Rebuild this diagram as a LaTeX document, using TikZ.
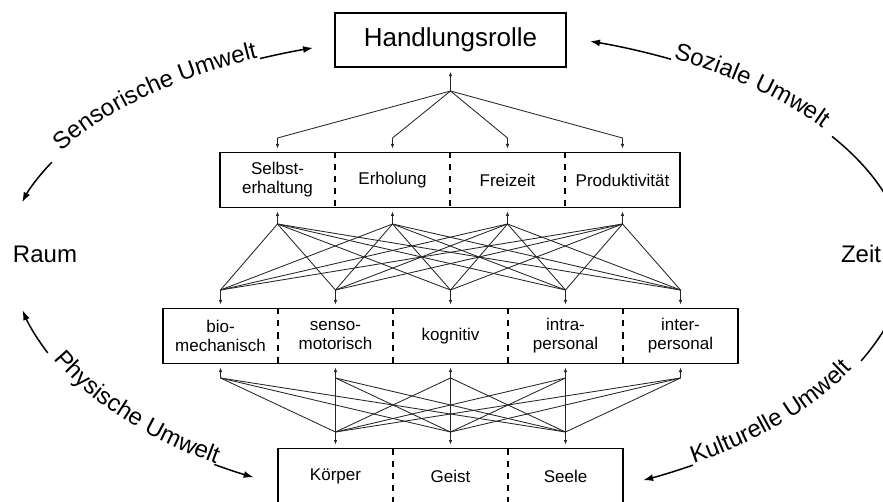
\documentclass[tikz,border=0pt]{standalone}
\usepackage{fontspec}
\setmainfont{Liberation Sans}
\usetikzlibrary{arrows.meta,positioning,calc,decorations.text}

\newcommand{\umweltfont}{\fontsize{24}{28}\selectfont}
\newcommand{\kastenfont}{\fontsize{17}{19}\selectfont}

\newcommand{\umweltbogen}[8]{
	\pgfmathsetmacro{\UBdir}{sign(#6-#5)}
	\pgfmathsetmacro{\UBla}{#5-1*\UBdir}
	\pgfmathsetmacro{\UBlb}{#6+1*\UBdir}
	\pgfmathsetmacro{\UBta}{#5-6*\UBdir}
	\pgfmathsetmacro{\UBtb}{#6+6*\UBdir}
	\draw[umwelt] ($(#1)+(\UBla:#2 and #3)$) arc[start angle=\UBla, end angle=#4, x radius=#2, y radius=#3];
	\path[decorate, decoration={text along path, text align=center, raise=1pt, text={|\umweltfont|#8}}]
		($(#1)+(\UBta:#2 and #3)$) arc[start angle=\UBta, end angle=\UBtb, x radius=#2, y radius=#3];
	\draw[umwelt] ($(#1)+(\UBlb:#2 and #3)$) arc[start angle=\UBlb, end angle=#7, x radius=#2, y radius=#3];
}

\newcommand{\faecher}[2]{
	\foreach \ziel in {#2} {\draw[link] (#1) -- (\ziel);}
}

\begin{document}
\begin{tikzpicture}[x=1pt, y=1pt,
	kasten/.style={minimum width=115pt, minimum height=55pt, inner sep=0pt, outer sep=0pt, align=center, font=\kastenfont},
	rahmen/.style={line width=1.5pt},
	trenner/.style={line width=1.1pt, dash pattern=on 6pt off 6pt},
	link/.style={line width=0.85pt, black!85},
	pfeil/.style={line width=0.85pt, black!85, -{Latex[length=4.5pt,width=3.5pt]}, shorten >=4pt},
	umwelt/.style={line width=1.5pt, -{Latex[length=10pt,width=7pt]}}]
\useasboundingbox (0,0) rectangle (883,501);
\clip (0,0) rectangle (883,501);

\node[draw, rahmen, minimum width=231pt, minimum height=54pt, font=\fontsize{26}{30}\selectfont] (rolle) at (450.5,461) {Handlungsrolle};

\node[kasten] (selbst) at (277.5,321) {Selbst-\\erhaltung};
\node[kasten, right=0pt of selbst] (erholung) {Erholung};
\node[kasten, right=0pt of erholung] (freizeit) {Freizeit};
\node[kasten, right=0pt of freizeit] (produkt) {Produktivität};
\draw[rahmen] (selbst.north west) rectangle (produkt.south east);
\draw[trenner] (selbst.north east) -- (selbst.south east);
\draw[trenner] (erholung.north east) -- (erholung.south east);
\draw[trenner] (freizeit.north east) -- (freizeit.south east);

\node[kasten] (bio) at (220.5,165) {bio-\\mechanisch};
\node[kasten, right=0pt of bio] (senso) {senso-\\motorisch};
\node[kasten, right=0pt of senso] (kogn) {kognitiv};
\node[kasten, right=0pt of kogn] (intra) {intra-\\personal};
\node[kasten, right=0pt of intra] (inter) {inter-\\personal};
\draw[rahmen] (bio.north west) rectangle (inter.south east);
\draw[trenner] (bio.north east) -- (bio.south east);
\draw[trenner] (senso.north east) -- (senso.south east);
\draw[trenner] (kogn.north east) -- (kogn.south east);
\draw[trenner] (intra.north east) -- (intra.south east);

\node[kasten] (koerper) at (335.5,25) {Körper};
\node[kasten, right=0pt of koerper] (geist) {Geist};
\node[kasten, right=0pt of geist] (seele) {Seele};
\draw[rahmen] (koerper.north west) rectangle (seele.south east);
\draw[trenner] (koerper.north east) -- (koerper.south east);
\draw[trenner] (geist.north east) -- (geist.south east);

\node[font=\umweltfont] (raum) at (45,247) {Raum};
\node[font=\umweltfont] (zeit) at (861,247) {Zeit};

\coordinate (spitze) at (450.5,410);
\coordinate[above=14.5pt of selbst.north] (o1);
\coordinate[above=14.5pt of erholung.north] (o2);
\coordinate[above=14.5pt of freizeit.north] (o3);
\coordinate[above=14.5pt of produkt.north] (o4);
\coordinate[below=16.5pt of selbst.south] (u1);
\coordinate[below=16.5pt of erholung.south] (u2);
\coordinate[below=16.5pt of freizeit.south] (u3);
\coordinate[below=16.5pt of produkt.south] (u4);
\coordinate[above=18.5pt of bio.north] (p1);
\coordinate[above=18.5pt of senso.north] (p2);
\coordinate[above=18.5pt of kogn.north] (p3);
\coordinate[above=18.5pt of intra.north] (p4);
\coordinate[above=18.5pt of inter.north] (p5);
\coordinate[below=14.5pt of bio.south] (q1);
\coordinate[below=14.5pt of senso.south] (q2);
\coordinate[below=14.5pt of kogn.south] (q3);
\coordinate[below=14.5pt of intra.south] (q4);
\coordinate[below=14.5pt of inter.south] (q5);
\coordinate[above=16.5pt of koerper.north] (r1);
\coordinate[above=16.5pt of geist.north] (r2);
\coordinate[above=16.5pt of seele.north] (r3);

\draw[pfeil] (spitze) -- (rolle.south);
\faecher{spitze}{o1,o2,o3,o4}
\draw[pfeil] (o1) -- (selbst.north);
\draw[pfeil] (o2) -- (erholung.north);
\draw[pfeil] (o3) -- (freizeit.north);
\draw[pfeil] (o4) -- (produkt.north);

\draw[pfeil] (u1) -- (selbst.south);
\draw[pfeil] (u2) -- (erholung.south);
\draw[pfeil] (u3) -- (freizeit.south);
\draw[pfeil] (u4) -- (produkt.south);
\faecher{u1}{p1,p2,p3,p4,p5}
\faecher{u2}{p1,p2,p3,p4,p5}
\faecher{u3}{p1,p2,p3,p4,p5}
\faecher{u4}{p1,p2,p3,p4,p5}
\draw[pfeil] (p1) -- (bio.north);
\draw[pfeil] (p2) -- (senso.north);
\draw[pfeil] (p3) -- (kogn.north);
\draw[pfeil] (p4) -- (intra.north);
\draw[pfeil] (p5) -- (inter.north);

\draw[pfeil] (q1) -- (bio.south);
\draw[pfeil] (q2) -- (senso.south);
\draw[pfeil] (q3) -- (kogn.south);
\draw[pfeil] (q4) -- (intra.south);
\draw[pfeil] (q5) -- (inter.south);
\faecher{q1}{r1,r2,r3}
\faecher{q2}{r1,r2,r3}
\faecher{q3}{r1,r2,r3}
\faecher{q4}{r1,r2,r3}
\faecher{q5}{r1,r2,r3}
\draw[pfeil] (r1) -- (koerper.north);
\draw[pfeil] (r2) -- (geist.north);
\draw[pfeil] (r3) -- (seele.north);

\coordinate (mitteoben) at (450,241);
\coordinate (mitteunten) at (450,251);
\umweltbogen{mitteoben}{443}{223}{165}{153}{116.4}{108}{Sensorische Umwelt}
\umweltbogen{mitteoben}{453}{230}{72}{59.8}{33.5}{8}{Soziale Umwelt}
\umweltbogen{mitteunten}{440}{254}{193.7}{204.9}{236.6}{243.5}{Physische Umwelt}
\umweltbogen{mitteunten}{457}{254}{-65}{-56.9}{-26.9}{-8}{Kulturelle Umwelt}
\end{tikzpicture}
\end{document}
